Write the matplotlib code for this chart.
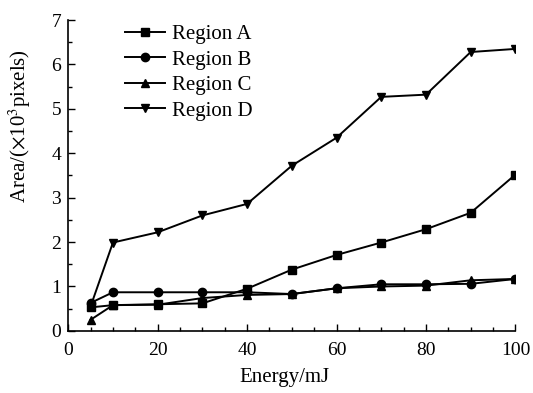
import matplotlib
matplotlib.use("Agg")
import matplotlib.pyplot as plt
from matplotlib.ticker import MultipleLocator

plt.rcParams['font.family'] = ['Liberation Serif', 'DejaVu Serif']
plt.rcParams['mathtext.fontset'] = 'stix'

# Data
energy = [5, 10, 20, 30, 40, 50, 60, 70, 80, 90, 100]
region_a = [0.53, 0.58, 0.60, 0.62, 0.95, 1.38, 1.71, 1.99, 2.29, 2.66, 3.52]
region_b = [0.63, 0.87, 0.87, 0.87, 0.87, 0.83, 0.96, 1.05, 1.05, 1.06, 1.17]
region_c = [0.25, 0.58, 0.59, 0.74, 0.81, 0.83, 0.96, 1.00, 1.02, 1.14, 1.17]
region_d = [0.55, 1.99, 2.22, 2.60, 2.86, 3.72, 4.35, 5.27, 5.32, 6.28, 6.35]

fig = plt.figure(figsize=(5.33, 3.93), dpi=100)
ax = fig.add_axes([0.128, 0.158, 0.839, 0.791])

ms = 6
ax.plot(energy, region_a, color='black', marker='s', ms=ms - 0.5, lw=1.4, label='Region A')
ax.plot(energy, region_b, color='black', marker='o', ms=ms, lw=1.4, label='Region B')
ax.plot(energy, region_c, color='black', marker='^', ms=ms, lw=1.4, label='Region C')
ax.plot(energy, region_d, color='black', marker='v', ms=ms, lw=1.4, label='Region D')

ax.set_xlim(0, 100)
ax.set_ylim(0, 7)
ax.xaxis.set_major_locator(MultipleLocator(20))
ax.xaxis.set_minor_locator(MultipleLocator(5))
ax.yaxis.set_major_locator(MultipleLocator(1))
ax.yaxis.set_minor_locator(MultipleLocator(0.5))
ax.tick_params(which='both', direction='in', top=False, right=False, labelsize=14)
ax.tick_params(which='major', length=5, width=1)
ax.tick_params(which='minor', length=3, width=1)
ax.tick_params(axis='x', pad=8)
ax.tick_params(axis='y', pad=5)
for s in ['top', 'right']:
    ax.spines[s].set_visible(False)
for s in ['left', 'bottom']:
    ax.spines[s].set_linewidth(1.2)

ax.set_xlabel('Energy/mJ', fontsize=15)
ax.set_ylabel(r'Area/($\times$10$^3$pixels)', fontsize=15)
ax.xaxis.set_label_coords(0.483, -0.119)
ax.yaxis.set_label_coords(-0.078, 0.66)

ax.legend(loc='upper left', bbox_to_anchor=(0.1275, 0.985), frameon=False, fontsize=15,
          handlelength=1.92, labelspacing=0.28, handletextpad=0.34,
          borderpad=0, borderaxespad=0)

fig.savefig('out.png', dpi=100)
